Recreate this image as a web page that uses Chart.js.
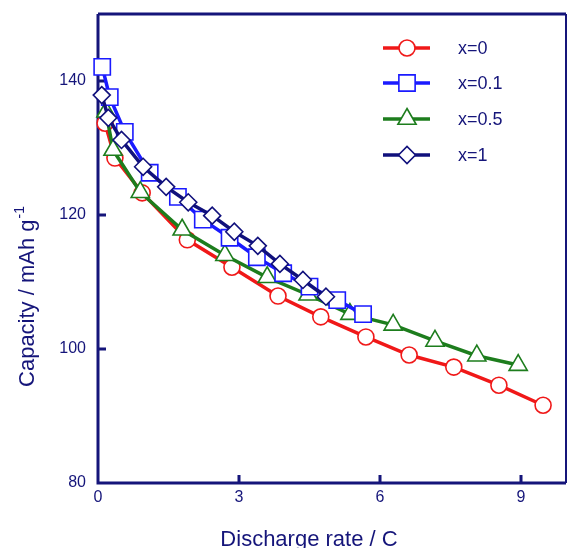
<!DOCTYPE html>
<html>
<head>
<meta charset="utf-8">
<script src="https://cdn.jsdelivr.net/npm/chart.js@4"></script>
<style>
  html, body { margin: 0; padding: 0; background: #fff; }
  #wrap { width: 568px; height: 548px; }
</style>
</head>
<body>
<div id="wrap"><canvas id="chart" width="568" height="548"></canvas></div>
<script>
// discharge rate (C) and capacity (mAh/g)
const rate0 = [0.15, 0.36, 0.94, 1.9, 2.85, 3.83, 4.74, 5.7, 6.62, 7.57, 8.53, 9.47];
const cap0 = [133.7, 128.5, 123.3, 116.3, 112.2, 107.9, 104.8, 101.8, 99.1, 97.3, 94.6, 91.6];

const rate01 = [0.09, 0.25, 0.57, 1.1, 1.7, 2.23, 2.8, 3.38, 3.94, 4.5, 5.09, 5.64];
const cap01 = [142.1, 137.6, 132.4, 126.3, 122.7, 119.3, 116.6, 113.7, 111.3, 109.3, 107.3, 105.2];

const rate05 = [0.17, 0.32, 0.9, 1.79, 2.7, 3.6, 4.47, 5.36, 6.28, 7.17, 8.06, 8.94];
const cap05 = [135.4, 129.7, 123.4, 117.8, 114.0, 110.7, 108.1, 105.2, 103.6, 101.2, 99.0, 97.6];

const rate1 = [0.08, 0.22, 0.5, 0.96, 1.45, 1.92, 2.43, 2.9, 3.4, 3.87, 4.36, 4.85];
const cap1 = [137.9, 134.5, 131.2, 127.2, 124.2, 121.9, 119.9, 117.5, 115.4, 112.7, 110.3, 107.8];

const seriesNames = ['x=0', 'x=0.1', 'x=0.5', 'x=1'];
const xTicks = [0, 3, 6, 9];
const yTicks = [80, 100, 120, 140];

const navy = '#15157a';
const textFont = '"Liberation Sans", Arial, sans-serif';

function pairs(xs, ys) {
    return xs.map((x, i) => ({ x: x, y: ys[i] }));
}

function makeSet(label, xs, ys, color, style, radius, order) {
    return {
        label: label,
        data: pairs(xs, ys),
        borderColor: color,
        backgroundColor: '#fff',
        borderWidth: 3.5,
        pointStyle: style,
        pointRadius: radius,
        pointHoverRadius: radius,
        pointBorderWidth: 1.6,
        pointBorderColor: color,
        pointBackgroundColor: '#fff',
        showLine: true,
        tension: 0,
        clip: false,
        order: order
    };
}

// frame, inward ticks, axis titles and the legend box
const decor = {
    id: 'decor',
    beforeDatasetsDraw(chart) {
        const ctx = chart.ctx;
        const a = chart.chartArea;
        const xs = chart.scales.x, ys = chart.scales.y;
        const right = a.right - 2;
        ctx.save();
        ctx.strokeStyle = navy;
        ctx.lineWidth = 3;
        ctx.beginPath();
        ctx.moveTo(a.left, a.top); ctx.lineTo(a.left, a.bottom); ctx.lineTo(right, a.bottom);
        ctx.moveTo(a.left, a.top); ctx.lineTo(right, a.top);
        ctx.stroke();
        ctx.lineWidth = 2;
        ctx.beginPath();
        ctx.moveTo(right, a.top); ctx.lineTo(right, a.bottom);
        ctx.stroke();
        ctx.lineWidth = 3;
        ctx.beginPath();
        xTicks.forEach(v => {
            const px = xs.getPixelForValue(v);
            if (v === 0) return;
            ctx.moveTo(px, a.bottom); ctx.lineTo(px, a.bottom - 8);
        });
        yTicks.forEach(v => {
            const py = ys.getPixelForValue(v);
            if (v === 80) return;
            ctx.moveTo(a.left, py); ctx.lineTo(a.left + 8, py);
        });
        ctx.stroke();

        // axis titles
        ctx.fillStyle = navy;
        ctx.font = '22px ' + textFont;
        ctx.textAlign = 'center';
        ctx.textBaseline = 'alphabetic';
        ctx.fillText('Discharge rate / C', 309, 546);

        ctx.save();
        ctx.translate(34, 297);
        ctx.rotate(-Math.PI / 2);
        const main = 'Capacity / mAh g';
        const w = ctx.measureText(main).width;
        ctx.font = '14px ' + textFont;
        const sw = ctx.measureText('-1').width;
        const start = -(w + sw) / 2;
        ctx.textAlign = 'left';
        ctx.font = '22px ' + textFont;
        ctx.fillText(main, start, 0);
        ctx.font = '14px ' + textFont;
        ctx.fillText('-1', start + w + 1, -10);
        ctx.restore();
        ctx.restore();
    },
    afterDatasetsDraw(chart) {
        const ctx = chart.ctx;
        ctx.save();
        const rows = [48, 83, 119, 155];
        chart.data.datasets.forEach((ds, i) => {
            const y = rows[i];
            ctx.strokeStyle = ds.borderColor;
            ctx.lineWidth = ds.borderWidth;
            ctx.beginPath();
            ctx.moveTo(383, y); ctx.lineTo(430, y);
            ctx.stroke();
            ctx.fillStyle = '#fff';
            ctx.lineWidth = ds.pointBorderWidth;
            Chart.helpers.drawPoint(ctx, {
                pointStyle: ds.pointStyle,
                radius: ds.pointRadius,
                borderWidth: ds.pointBorderWidth,
                rotation: 0
            }, 407, y);
            ctx.fillStyle = navy;
            ctx.font = '18px ' + textFont;
            ctx.textAlign = 'left';
            ctx.textBaseline = 'middle';
            ctx.fillText(ds.label, 458, y + 1);
        });
        ctx.restore();
    }
};

new Chart(document.getElementById('chart'), {
    type: 'line',
    data: {
        datasets: [
            makeSet(seriesNames[0], rate0, cap0, '#f01818', 'circle', 8, 3),
            makeSet(seriesNames[1], rate01, cap01, '#1a1aff', 'rect', 11.5, 1),
            makeSet(seriesNames[2], rate05, cap05, '#1d7d1d', 'triangle', 10.5, 2),
            makeSet(seriesNames[3], rate1, cap1, '#10107c', 'rectRot', 8.5, 0)
        ]
    },
    options: {
        responsive: false,
        animation: false,
        events: [],
        layout: { autoPadding: false, padding: { top: 14, right: 0, left: 0, bottom: 0 } },
        plugins: { legend: { display: false }, tooltip: { enabled: false } },
        scales: {
            x: {
                type: 'linear',
                min: 0,
                max: 10,
                afterBuildTicks: s => { s.ticks = xTicks.map(v => ({ value: v })); },
                afterFit: s => { s.height = 65; s.paddingLeft = 0; s.paddingRight = 0; },
                grid: { display: false, drawTicks: false },
                border: { display: false },
                ticks: { color: navy, font: { family: textFont, size: 16 }, padding: 5, maxRotation: 0 }
            },
            y: {
                type: 'linear',
                min: 80,
                max: 150,
                afterBuildTicks: s => { s.ticks = yTicks.map(v => ({ value: v })); },
                afterFit: s => { s.width = 98; s.paddingTop = 0; s.paddingBottom = 0; },
                grid: { display: false, drawTicks: false },
                border: { display: false },
                ticks: { color: navy, font: { family: textFont, size: 16 }, padding: 12 }
            }
        }
    },
    plugins: [decor]
});
</script>
</body>
</html>
